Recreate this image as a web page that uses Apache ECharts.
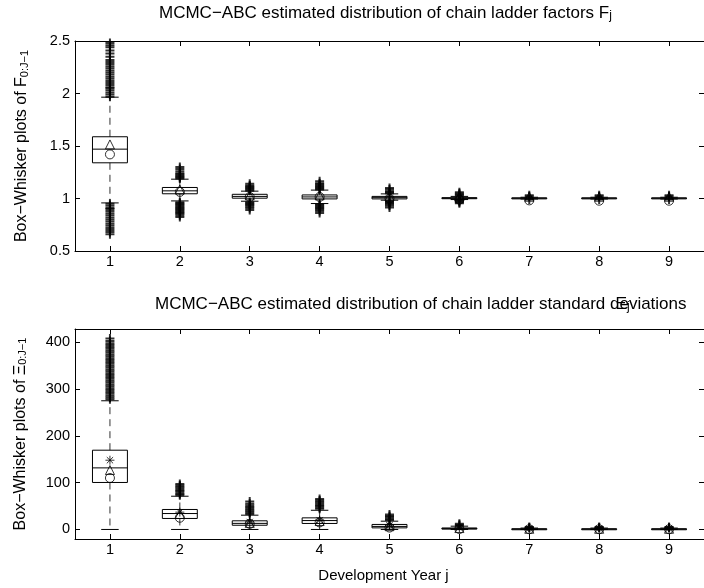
<!DOCTYPE html>
<html>
<head>
<meta charset="utf-8">
<script src="https://cdn.jsdelivr.net/npm/echarts@6/dist/echarts.min.js"></script>
<style>
  html, body { margin: 0; padding: 0; background: #fff; }
  #chart { width: 704px; height: 588px; }
</style>
</head>
<body>
<div id="chart"></div>
<script>
// development years
const years = [1, 2, 3, 4, 5, 6, 7, 8, 9]

// chain ladder factors F_j
const fQ1 = [1.34, 1.045, 1.003, 0.996, 0.996, 0.998, 0.999, 0.999, 0.999]
const fMedian = [1.47, 1.073, 1.02, 1.015, 1.008, 1.003, 1.003, 1.003, 1.003]
const fQ3 = [1.588, 1.105, 1.04, 1.034, 1.02, 1.008, 1.006, 1.006, 1.006]
const fWhiskerLow = [0.958, 0.977, 0.974, 0.952, 0.984, 0.99, 0.995, 0.995, 0.995]
const fWhiskerHigh = [1.965, 1.184, 1.07, 1.08, 1.044, 1.02, 1.012, 1.012, 1.012]
const fTriangle = [1.515, 1.086, 1.03, 1.03, 1.02, 1.02, 1.017, 1.017, 1.017]
const fCircle = [1.42, 1.063, 1.015, 1.015, 1.0, 0.99, 0.982, 0.979, 0.979]
const fOutliers = [
  [1.97, 1.99, 2.01, 2.03, 2.05, 2.06, 2.08, 2.1, 2.12, 2.14, 2.16, 2.18, 2.2, 2.22, 2.24, 2.26, 2.28, 2.3, 2.32, 2.35, 2.38, 2.41, 2.44, 2.46, 2.48,
   0.95, 0.93, 0.91, 0.9, 0.88, 0.86, 0.84, 0.82, 0.8, 0.78, 0.76, 0.74, 0.72, 0.7, 0.68, 0.66],
  [1.19, 1.2, 1.21, 1.22, 1.23, 1.24, 1.26, 1.28, 1.3,
   0.965, 0.955, 0.945, 0.935, 0.925, 0.915, 0.905, 0.895, 0.885, 0.875, 0.865, 0.855, 0.84, 0.824],
  [1.075, 1.085, 1.095, 1.105, 1.115, 1.125, 1.14, 0.965, 0.955, 0.945, 0.935, 0.925, 0.91, 0.89],
  [1.085, 1.095, 1.105, 1.115, 1.125, 1.135, 1.145, 1.165, 0.945, 0.935, 0.925, 0.915, 0.905, 0.895, 0.88, 0.863],
  [1.05, 1.06, 1.07, 1.085, 1.1, 0.975, 0.965, 0.955, 0.945, 0.93, 0.914],
  [1.028, 1.038, 1.048, 1.06, 0.985, 0.975, 0.965, 0.955],
  [1.02, 1.03, 0.99],
  [1.02, 1.03, 0.99],
  [1.02, 1.03, 0.99]
]

// chain ladder standard deviations Xi_j
const xiQ1 = [100.4, 23.5, 9, 12.8, 3.4, 0.8, 0.3, 0.3, 0.3]
const xiMedian = [131.6, 34, 13, 19, 6.5, 1.8, 0.8, 0.8, 0.8]
const xiQ3 = [169.4, 42.7, 18.5, 24.8, 10.7, 3.2, 1.5, 1.5, 1.5]
const xiWhiskerLow = [0, 0, 0, 0, 0, 0, 0, 0, 0]
const xiWhiskerHigh = [275, 71, 30.5, 41, 17.7, 7, 3, 3, 3]
const xiStar = [148, 37, 16, 20, 9, 3.5, 2, 2, 2]
const xiTriangle = [127, 33, 14, 18, 7, 3, 1.5, 1.5, 1.5]
const xiCircle = [110, 25, 12, 15, 4, 1, 0.5, 0.5, 0.5]
const xiOutliers = [
  [278, 282, 286, 290, 294, 298, 302, 306, 310, 314, 318, 322, 326, 330, 334, 338, 342, 346, 350, 354, 358, 362, 366, 370,
   374, 378, 382, 386, 390, 394, 398, 403, 408],
  [73, 76, 79, 82, 85, 88, 91, 94, 97],
  [33, 36, 39, 42, 45, 48, 51, 55, 60],
  [44, 47, 50, 53, 56, 59, 62, 65],
  [20, 23, 26, 29, 32],
  [8, 10, 12],
  [4, 5],
  [4, 5],
  [4, 5]
]

const fontFamily = 'Liberation Sans, Arial, Helvetica, sans-serif'
const plusSymbol = 'path://M0,5L10,5M5,0L5,10'
const starSymbol = 'path://M5,0L5,10M0,5L10,5M1.5,1.5L8.5,8.5M1.5,8.5L8.5,1.5'

const boxRows = (q1, med, q3, lo, hi) => years.map((x, i) => [x, q1[i], med[i], q3[i], lo[i], hi[i]])
const pointRows = (vals) => years.map((x, i) => [x, vals[i]])
const outlierRows = (lists) => {
  const out = []
  lists.forEach((list, i) => list.forEach(v => out.push([years[i], v])))
  return out
}

// matlab style box: outline box, dashed whiskers, half-width caps
const renderBox = (params, api) => {
  const x = api.value(0)
  const left = api.coord([x - 0.25, api.value(2)])[0]
  const right = api.coord([x + 0.25, api.value(2)])[0]
  const cx = api.coord([x, api.value(2)])[0]
  const yQ1 = api.coord([x, api.value(1)])[1]
  const yMed = api.coord([x, api.value(2)])[1]
  const yQ3 = api.coord([x, api.value(3)])[1]
  const yLo = api.coord([x, api.value(4)])[1]
  const yHi = api.coord([x, api.value(5)])[1]
  const cap = (right - left) / 4
  const solid = { stroke: '#000', lineWidth: 1, fill: null }
  const dashed = { stroke: '#333', lineWidth: 1, lineDash: [7, 5], fill: null }
  return {
    type: 'group',
    children: [
      { type: 'line', shape: { x1: cx, y1: yQ3, x2: cx, y2: yHi }, style: dashed },
      { type: 'line', shape: { x1: cx, y1: yQ1, x2: cx, y2: yLo }, style: dashed },
      { type: 'line', shape: { x1: cx - cap, y1: yHi, x2: cx + cap, y2: yHi }, style: solid },
      { type: 'line', shape: { x1: cx - cap, y1: yLo, x2: cx + cap, y2: yLo }, style: solid },
      { type: 'rect', shape: { x: left, y: yQ3, width: right - left, height: Math.max(yQ1 - yQ3, 1) }, style: solid },
      { type: 'line', shape: { x1: left, y1: yMed, x2: right, y2: yMed }, style: solid }
    ]
  }
}

const tickLabel = { color: '#000', fontFamily: fontFamily, fontSize: 14.5 }
const axisLine = { show: true, onZero: false, lineStyle: { color: '#000', width: 1 } }
const hollow = { color: 'rgba(0,0,0,0)', borderColor: '#000', borderWidth: 1 }
const outlierStyle = { color: 'rgba(0,0,0,0)', borderColor: '#000', borderWidth: 2 }

const makeX = (gridIndex, bottom) => ({
  type: 'value',
  gridIndex: gridIndex,
  position: bottom ? 'bottom' : 'top',
  min: 0.5,
  max: 9.5,
  axisLine: axisLine,
  axisTick: { show: true, inside: true, length: 5, customValues: years, lineStyle: { color: '#000' } },
  axisLabel: bottom ? Object.assign({ show: true, margin: 3, customValues: years }, tickLabel) : { show: false },
  splitLine: { show: false }
})

const yName = (sym) => '{a|Box−Whisker plots of ' + sym + '}{b|0:J−1}'
const yNameStyle = {
  color: '#000',
  fontFamily: fontFamily,
  rich: {
    a: { fontSize: 16, fontFamily: fontFamily, color: '#000', verticalAlign: 'top', lineHeight: 16, padding: [0, 0, 6, 0] },
    b: { fontSize: 11, fontFamily: fontFamily, color: '#000', verticalAlign: 'bottom', lineHeight: 11 }
  }
}
const titleRich = {
  t: { fontSize: 17, fontFamily: fontFamily, fontWeight: 'normal', color: '#000', verticalAlign: 'top', lineHeight: 17, padding: [0, 0, 5, 0] },
  s: { fontSize: 12, fontFamily: fontFamily, fontWeight: 'normal', color: '#000', verticalAlign: 'bottom', lineHeight: 12 }
}

const option = {
  animation: false,
  backgroundColor: '#fff',
  title: [
    {
      text: '{t|MCMC−ABC estimated distribution of chain ladder factors F}{s|j}',
      left: 159,
      top: 5,
      padding: 0,
      textStyle: { fontWeight: 'normal', rich: titleRich }
    },
    {
      text: 'MCMC−ABC estimated distribution of chain ladder standard deviations',
      left: 155,
      top: 296,
      padding: 0,
      textStyle: { fontSize: 17, fontFamily: fontFamily, color: '#000', fontWeight: 'normal' }
    },
    {
      text: '{t|Ξ}{s|j}',
      left: 616,
      top: 296,
      padding: 0,
      textStyle: { fontWeight: 'normal', rich: titleRich }
    }
  ],
  grid: [
    { left: 75, top: 41, width: 633, height: 210 },
    { left: 75, top: 329, width: 633, height: 210 }
  ],
  xAxis: [
    makeX(0, true),
    makeX(0, false),
    Object.assign(makeX(1, true), {
      name: 'Development Year j',
      nameLocation: 'middle',
      nameGap: 29,
      nameTextStyle: { color: '#000', fontFamily: fontFamily, fontSize: 15, padding: [0, 12, 0, 0] }
    }),
    makeX(1, false)
  ],
  yAxis: [
    {
      type: 'value', gridIndex: 0, position: 'left', min: 0.5, max: 2.5, interval: 0.5,
      axisLine: axisLine,
      axisTick: { show: true, inside: true, length: 5, lineStyle: { color: '#000' } },
      axisLabel: Object.assign({ margin: 5 }, tickLabel),
      splitLine: { show: false },
      name: yName('F'), nameLocation: 'middle', nameGap: 45, nameTextStyle: yNameStyle
    },
    {
      type: 'value', gridIndex: 0, position: 'right', min: 0.5, max: 2.5, interval: 0.5,
      axisLine: axisLine,
      axisTick: { show: true, inside: true, length: 5, lineStyle: { color: '#000' } },
      axisLabel: { show: false },
      splitLine: { show: false }
    },
    {
      type: 'value', gridIndex: 1, position: 'left', min: -20.4, max: 428.4,
      axisLine: axisLine,
      axisTick: { show: true, inside: true, length: 5, customValues: [0, 100, 200, 300, 400], lineStyle: { color: '#000' } },
      axisLabel: Object.assign({ margin: 5, customValues: [0, 100, 200, 300, 400] }, tickLabel),
      splitLine: { show: false },
      name: yName('Ξ'), nameLocation: 'middle', nameGap: 45, nameTextStyle: yNameStyle
    },
    {
      type: 'value', gridIndex: 1, position: 'right', min: -20.4, max: 428.4,
      axisLine: axisLine,
      axisTick: { show: true, inside: true, length: 5, customValues: [0, 100, 200, 300, 400], lineStyle: { color: '#000' } },
      axisLabel: { show: false },
      splitLine: { show: false }
    }
  ],
  series: [
    {
      type: 'scatter', xAxisIndex: 0, yAxisIndex: 0,
      data: outlierRows(fOutliers),
      symbol: plusSymbol, symbolSize: 9,
      itemStyle: outlierStyle
    },
    {
      type: 'custom', xAxisIndex: 0, yAxisIndex: 0,
      data: boxRows(fQ1, fMedian, fQ3, fWhiskerLow, fWhiskerHigh),
      renderItem: renderBox
    },
    {
      type: 'scatter', xAxisIndex: 0, yAxisIndex: 0,
      data: pointRows(fTriangle),
      symbol: 'triangle', symbolSize: 9,
      itemStyle: hollow
    },
    {
      type: 'scatter', xAxisIndex: 0, yAxisIndex: 0,
      data: pointRows(fCircle),
      symbol: 'circle', symbolSize: 9,
      itemStyle: hollow
    },
    {
      type: 'scatter', xAxisIndex: 2, yAxisIndex: 2,
      data: outlierRows(xiOutliers),
      symbol: plusSymbol, symbolSize: 9,
      itemStyle: outlierStyle
    },
    {
      type: 'custom', xAxisIndex: 2, yAxisIndex: 2,
      data: boxRows(xiQ1, xiMedian, xiQ3, xiWhiskerLow, xiWhiskerHigh),
      renderItem: renderBox
    },
    {
      type: 'scatter', xAxisIndex: 2, yAxisIndex: 2,
      data: pointRows(xiStar),
      symbol: starSymbol, symbolSize: 9,
      itemStyle: hollow
    },
    {
      type: 'scatter', xAxisIndex: 2, yAxisIndex: 2,
      data: pointRows(xiTriangle),
      symbol: 'triangle', symbolSize: 9,
      itemStyle: hollow
    },
    {
      type: 'scatter', xAxisIndex: 2, yAxisIndex: 2,
      data: pointRows(xiCircle),
      symbol: 'circle', symbolSize: 9,
      itemStyle: hollow
    }
  ]
}

const chartInstance = echarts.init(document.getElementById('chart'))
chartInstance.setOption(option)
</script>
</body>
</html>
